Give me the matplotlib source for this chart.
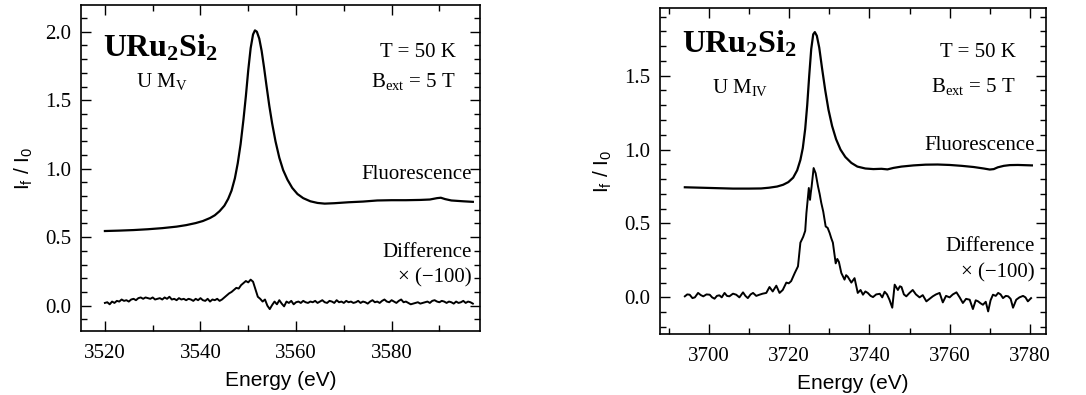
import matplotlib
matplotlib.use("Agg")
import matplotlib.pyplot as plt
from matplotlib.ticker import MultipleLocator, FormatStrFormatter

plt.rcParams['font.family'] = ['Liberation Serif', 'DejaVu Serif']
plt.rcParams['mathtext.fontset'] = 'custom'
plt.rcParams['mathtext.rm'] = 'Liberation Serif'
plt.rcParams['mathtext.it'] = 'Liberation Serif:italic'
plt.rcParams['mathtext.bf'] = 'Liberation Serif:bold'
plt.rcParams['mathtext.sf'] = 'Liberation Sans'

# U M_V edge (left panel)
mv_fl_e = [3520, 3523, 3526, 3529, 3532, 3535, 3537, 3539, 3540.5, 3542, 3543, 3544, 3545,
           3545.8, 3546.5, 3547.2, 3547.8, 3548.4, 3549, 3549.5, 3550, 3550.5, 3551, 3551.4,
           3551.8, 3552.3, 3552.8, 3553.3, 3553.8, 3554.4, 3555, 3555.7, 3556.5, 3557.3,
           3558.2, 3559.2, 3560.3, 3561.5, 3563, 3564.5, 3566, 3568, 3571, 3574, 3577, 3580,
           3583, 3586, 3588, 3589.5, 3590.3, 3591.2, 3592.5, 3595, 3597]
mv_fl = [0.545, 0.548, 0.552, 0.558, 0.566, 0.577, 0.588, 0.603, 0.618, 0.64, 0.66, 0.69, 0.73,
         0.78, 0.84, 0.93, 1.04, 1.18, 1.36, 1.53, 1.72, 1.88, 1.98, 2.01,
         2.0, 1.95, 1.86, 1.74, 1.61, 1.46, 1.33, 1.2, 1.08, 0.99,
         0.92, 0.86, 0.815, 0.785, 0.762, 0.75, 0.745, 0.748, 0.755, 0.76, 0.768, 0.77,
         0.77, 0.772, 0.775, 0.785, 0.788, 0.778, 0.768, 0.762, 0.758]

mv_df_e = [3520.0, 3520.5, 3521.0, 3521.5, 3522.0, 3522.5, 3523.0, 3523.5, 3524.0, 3524.5,
           3525.0, 3525.5, 3526.0, 3526.5, 3527.0, 3527.5, 3528.0, 3528.5, 3529.0, 3529.5,
           3530.0, 3530.5, 3531.0, 3531.5, 3532.0, 3532.5, 3533.0, 3533.5, 3534.0, 3534.5,
           3535.0, 3535.5, 3536.0, 3536.5, 3537.0, 3537.5, 3538.0, 3538.5, 3539.0, 3539.5,
           3540.0, 3540.5, 3541.0, 3541.5, 3542.0, 3542.5, 3543.0, 3543.5, 3544.0, 3544.5,
           3545.0, 3545.5, 3546.0, 3546.5, 3547.0, 3547.5, 3548.0, 3548.5, 3549.0, 3549.5,
           3550.0, 3550.5, 3551.0, 3551.5, 3552.0, 3552.5, 3553.0, 3553.5, 3554.0, 3554.5,
           3555.0, 3555.5, 3556.0, 3556.5, 3557.0, 3557.5, 3558.0, 3558.5, 3559.0, 3559.5,
           3560.0, 3560.5, 3561.0, 3561.5, 3562.0, 3562.5, 3563.0, 3563.5, 3564.0, 3564.5,
           3565.0, 3565.5, 3566.0, 3566.5, 3567.0, 3567.5, 3568.0, 3568.5, 3569.0, 3569.5,
           3570.0, 3570.5, 3571.0, 3571.5, 3572.0, 3572.5, 3573.0, 3573.5, 3574.0, 3574.5,
           3575.0, 3575.5, 3576.0, 3576.5, 3577.0, 3577.5, 3578.0, 3578.5, 3579.0, 3579.5,
           3580.0, 3580.5, 3581.0, 3581.5, 3582.0, 3582.5, 3583.0, 3583.5, 3584.0, 3584.5,
           3585.0, 3585.5, 3586.0, 3586.5, 3587.0, 3587.5, 3588.0, 3588.5, 3589.0, 3589.5,
           3590.0, 3590.5, 3591.0, 3591.5, 3592.0, 3592.5, 3593.0, 3593.5, 3594.0, 3594.5,
           3595.0, 3595.5, 3596.0, 3596.5, 3597.0]
mv_df = [0.02, 0.025, 0.01, 0.03, 0.02, 0.035, 0.03, 0.045, 0.035, 0.04,
         0.03, 0.045, 0.05, 0.04, 0.055, 0.06, 0.05, 0.06, 0.055, 0.05,
         0.06, 0.045, 0.05, 0.055, 0.045, 0.06, 0.05, 0.065, 0.045, 0.05,
         0.04, 0.055, 0.045, 0.05, 0.04, 0.05, 0.045, 0.035, 0.05, 0.04,
         0.055, 0.04, 0.035, 0.05, 0.03, 0.045, 0.04, 0.05, 0.035, 0.045,
         0.06, 0.075, 0.09, 0.1, 0.115, 0.13, 0.125, 0.15, 0.165, 0.18,
         0.17, 0.19, 0.175, 0.12, 0.065, 0.05, 0.03, 0.045, 0.0, -0.025,
         0.005, 0.03, 0.01, 0.04, 0.015, -0.005, 0.03, 0.02, 0.035, 0.01,
         0.025, 0.03, 0.02, 0.035, 0.025, 0.02, 0.03, 0.025, 0.035, 0.02,
         0.03, 0.04, 0.025, 0.02, 0.035, 0.03, 0.02, 0.04, 0.025, 0.03,
         0.02, 0.035, 0.025, 0.03, 0.02, 0.025, 0.035, 0.02, 0.03, 0.025,
         0.015, 0.03, 0.04, 0.025, 0.03, 0.02, 0.035, 0.045, 0.03, 0.025,
         0.04, 0.03, 0.02, 0.035, 0.045, 0.025, 0.03, 0.02, 0.01, 0.015,
         0.02, 0.025, 0.015, 0.02, 0.025, 0.03, 0.02, 0.035, 0.04, 0.03,
         0.025, 0.035, 0.03, 0.02, 0.03, 0.025, 0.015, 0.03, 0.02, 0.025,
         0.035, 0.02, 0.03, 0.025, 0.015]

# U M_IV edge (right panel)
miv_fl_e = [3694, 3698, 3702, 3706, 3710, 3713, 3715, 3717, 3718.5, 3719.8, 3721, 3722,
            3722.8, 3723.4, 3724, 3724.5, 3725, 3725.5, 3726, 3726.4, 3726.9, 3727.5,
            3728.2, 3729, 3729.8, 3730.7, 3731.7, 3732.8, 3734, 3735.5, 3737, 3739, 3741,
            3743, 3744.5, 3746, 3748, 3751, 3754, 3757, 3760, 3763, 3766, 3768.5, 3770,
            3771, 3772, 3773.5, 3775, 3777, 3780.5]
miv_fl = [0.745, 0.742, 0.739, 0.736, 0.736, 0.737, 0.742, 0.75, 0.762, 0.78, 0.81, 0.86,
          0.93, 1.01, 1.14, 1.3, 1.5, 1.68, 1.78, 1.795, 1.77, 1.69,
          1.55, 1.4, 1.27, 1.16, 1.07, 1.0, 0.95, 0.91, 0.885, 0.872, 0.868,
          0.87, 0.866, 0.876, 0.885, 0.893, 0.898, 0.899, 0.896, 0.89, 0.882, 0.872, 0.865,
          0.868, 0.88, 0.89, 0.895, 0.896, 0.893]

miv_df_e = [3694.0, 3694.6, 3695.2, 3695.9, 3696.5, 3697.3, 3698.0, 3698.6, 3699.4, 3700.2,
            3700.8, 3701.4, 3702.0, 3702.6, 3703.2, 3703.9, 3704.5, 3705.1, 3706.0, 3706.8,
            3707.6, 3708.5, 3709.1, 3709.7, 3710.4, 3711.0, 3711.8, 3712.6, 3713.4, 3714.3,
            3715.1, 3715.9, 3716.8, 3717.6, 3718.4, 3719.3, 3719.9, 3720.5, 3721.0, 3721.4,
            3722.2, 3722.8, 3723.5, 3724.0, 3724.3, 3724.9, 3725.2, 3725.4, 3725.6, 3726.1,
            3726.6, 3727.2, 3727.6, 3728.0, 3728.5, 3729.1, 3729.6, 3730.1, 3730.5, 3730.9,
            3731.6, 3732.0, 3732.4, 3733.0, 3733.8, 3734.2, 3734.6, 3735.5, 3736.3, 3737.1,
            3737.8, 3738.4, 3739.0, 3739.6, 3740.3, 3740.9, 3741.7, 3742.6, 3743.2, 3743.8,
            3744.4, 3745.0, 3745.7, 3746.3, 3747.1, 3747.6, 3748.0, 3748.6, 3749.2, 3750.0,
            3750.8, 3751.6, 3752.5, 3753.3, 3754.2, 3755.0, 3755.8, 3756.6, 3757.5, 3758.3,
            3759.1, 3760.0, 3760.8, 3761.7, 3762.5, 3763.3, 3764.1, 3765.0, 3765.8, 3766.5,
            3767.1, 3767.7, 3768.3, 3769.0, 3769.6, 3770.2, 3770.8, 3771.5, 3772.1, 3772.7,
            3773.3, 3774.0, 3774.6, 3775.2, 3775.8, 3776.6, 3777.4, 3778.3, 3778.9, 3779.5,
            3780.3]
miv_df = [0.007, 0.02, 0.018, -0.005, 0.0, 0.03, 0.015, 0.007, 0.02, 0.018,
          0.0, -0.009, 0.01, 0.014, 0.0, 0.03, 0.01, 0.007, 0.025, 0.018,
          0.0, 0.034, 0.01, -0.005, 0.02, 0.03, 0.01, 0.018, 0.025, 0.03,
          0.07, 0.04, 0.079, 0.03, 0.05, 0.1, 0.095, 0.11, 0.14, 0.165,
          0.21, 0.37, 0.41, 0.45, 0.57, 0.74, 0.66, 0.71, 0.75, 0.875,
          0.84, 0.75, 0.7, 0.64, 0.58, 0.48, 0.47, 0.435, 0.4, 0.37,
          0.23, 0.26, 0.24, 0.165, 0.12, 0.15, 0.14, 0.1, 0.13, 0.03,
          0.05, 0.018, 0.04, 0.03, 0.01, 0.002, 0.02, 0.024, 0.0, 0.038,
          0.02, -0.016, -0.07, 0.086, 0.05, 0.075, 0.07, 0.02, 0.007, 0.03,
          0.05, 0.02, 0.0, 0.015, -0.027, -0.01, 0.007, 0.02, 0.03, -0.034,
          0.01, 0.0, 0.02, 0.034, 0.0, -0.038, -0.01, -0.016, -0.079, -0.02,
          -0.027, -0.04, -0.05, -0.03, -0.095, -0.02, 0.018, 0.01, 0.03, 0.02,
          -0.005, 0.01, 0.007, -0.01, -0.07, -0.016, 0.0, 0.01, 0.0, -0.027,
          -0.005]

fig = plt.figure(figsize=(10.86, 3.95), dpi=100)
ax1 = fig.add_axes([0.0746, 0.162, 0.3674, 0.8253])
ax2 = fig.add_axes([0.6077, 0.1544, 0.3554, 0.8253])

for ax in (ax1, ax2):
    ax.tick_params(which='both', direction='in', top=True, right=True,
                   labelsize=15, width=1.0)
    ax.tick_params(which='major', length=7, pad=7)
    ax.tick_params(axis='x', which='major', pad=9)
    ax.tick_params(which='minor', length=4)
    ax.xaxis.set_major_locator(MultipleLocator(20))
    ax.xaxis.set_minor_locator(MultipleLocator(10))
    ax.yaxis.set_major_locator(MultipleLocator(0.5))
    ax.yaxis.set_minor_locator(MultipleLocator(0.1))
    ax.yaxis.set_major_formatter(FormatStrFormatter('%.1f'))
    for sp in ax.spines.values():
        sp.set_linewidth(1.2)
    ax.set_xlabel('Energy (eV)', fontsize=15, family='Liberation Sans', labelpad=6)
    ax.set_ylabel(r'I$_\mathsf{f}$ / I$_\mathsf{0}$', fontsize=15,
                  family='Liberation Sans', labelpad=8)

ax1.plot(mv_fl_e, mv_fl, color='black', lw=1.6)
ax1.plot(mv_df_e, mv_df, color='black', lw=1.4)
ax1.set_xlim(3515, 3598.5)
ax1.set_ylim(-0.185, 2.195)

ax1.text(3519.5, 1.88, r'$\mathbf{URu_2Si_2}$', fontsize=23, ha='left', va='center')
ax1.text(3526.5, 1.64, r'U M$_\mathrm{V}$', fontsize=15, ha='left', va='center')
ax1.text(3593.5, 1.85, 'T = 50 K', fontsize=15, ha='right', va='center')
ax1.text(3593.5, 1.64, r'B$_\mathrm{ext}$ = 5 T', fontsize=15, ha='right', va='center')
ax1.text(3596.8, 0.96, 'Fluorescence', fontsize=15, ha='right', va='center')
ax1.text(3596.8, 0.385, 'Difference', fontsize=15, ha='right', va='center')
ax1.text(3596.8, 0.2, '× (−100)', fontsize=15, ha='right', va='center')

ax2.plot(miv_fl_e, miv_fl, color='black', lw=1.6)
ax2.plot(miv_df_e, miv_df, color='black', lw=1.4)
ax2.set_xlim(3687.8, 3784)
ax2.set_ylim(-0.248, 1.958)

ax2.text(3693.3, 1.71, r'$\mathbf{URu_2Si_2}$', fontsize=23, ha='left', va='center')
ax2.text(3700.7, 1.42, r'U M$_\mathrm{IV}$', fontsize=15, ha='left', va='center')
ax2.text(3776.5, 1.66, 'T = 50 K', fontsize=15, ha='right', va='center')
ax2.text(3776.5, 1.43, r'B$_\mathrm{ext}$ = 5 T', fontsize=15, ha='right', va='center')
ax2.text(3781.2, 1.03, 'Fluorescence', fontsize=15, ha='right', va='center')
ax2.text(3781.2, 0.345, 'Difference', fontsize=15, ha='right', va='center')
ax2.text(3781.2, 0.165, '× (−100)', fontsize=15, ha='right', va='center')

fig.savefig('out.png', dpi=100)
